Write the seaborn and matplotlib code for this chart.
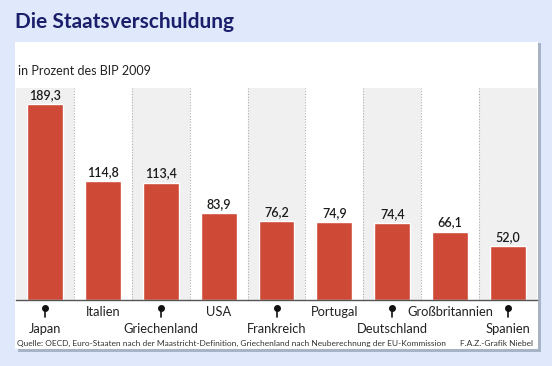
import matplotlib
matplotlib.use("Agg")
import matplotlib.pyplot as plt
import seaborn as sns
import pandas as pd
from matplotlib.patches import Rectangle
from matplotlib.transforms import blended_transform_factory

countries = ["Japan", "Italien", "Griechenland", "USA", "Frankreich",
             "Portugal", "Deutschland", "Großbritannien", "Spanien"]
values = [189.3, 114.8, 113.4, 83.9, 76.2, 74.9, 74.4, 66.1, 52.0]
value_labels = ["189,3", "114,8", "113,4", "83,9", "76,2", "74,9", "74,4", "66,1", "52,0"]
title = "Die Staatsverschuldung"
subtitle = "in Prozent des BIP 2009"
source = "Quelle: OECD, Euro-Staaten nach der Maastricht-Definition, Griechenland nach Neuberechnung der EU-Kommission"
credit = "F.A.Z.-Grafik Niebel"

df = pd.DataFrame({"land": countries, "wert": values})

sns.set_theme(style="white")
FONT = ["Lato", "DejaVu Sans"]
plt.rcParams["font.family"] = FONT

W, H = 552, 366
fig = plt.figure(figsize=(W / 100, H / 100), dpi=100)
fig.patch.set_facecolor("#dfe9fb")

def fx(px):
    return px / W

def fy(py):
    return 1 - py / H

# shadow + white panel
fig.patches.append(Rectangle((fx(18), fy(352)), fx(523), (309) / H,
                             transform=fig.transFigure, facecolor="#a9b3c6",
                             edgecolor="none", zorder=-2))
fig.patches.append(Rectangle((fx(15), fy(349)), fx(523), (307) / H,
                             transform=fig.transFigure, facecolor="white",
                             edgecolor="none", zorder=-1))

fig.text(fx(15), fy(22), title, fontsize=15, fontweight="bold",
         color="#1b1f6b", va="center", ha="left")
fig.text(fx(18), fy(71), subtitle, fontsize=9, color="#222222",
         va="center", ha="left")

ax = fig.add_axes([fx(16), fy(300), fx(537) - fx(16), (300 - 88) / H])
ax.set_facecolor("none")
ax.set_zorder(1)

n = len(countries)
for i in range(n):
    if i % 2 == 0:
        ax.axvspan(i - 0.5, i + 0.5, color="#f0f0f0", zorder=0, lw=0)
    if i < n - 1:
        ax.axvline(i + 0.5, color="#b0b0b0", lw=0.8, ls=(0, (1, 1.5)), zorder=0.5)

sns.barplot(data=df, x="land", y="wert", ax=ax, color="#cf4a36",
            saturation=1, width=0.62, zorder=2)

for i, (v, lab) in enumerate(zip(values, value_labels)):
    ax.text(i, v + 3, lab, ha="center", va="bottom", fontsize=9,
            fontweight="semibold", color="#1a1a1a", zorder=3)

ax.set_xlim(-0.5, n - 0.5)
ax.set_ylim(0, 212 / 1.035)
ax.set_xticks([])
ax.set_yticks([])
ax.set_xlabel("")
ax.set_ylabel("")
for s in ["top", "left", "right"]:
    ax.spines[s].set_visible(False)
ax.spines["bottom"].set_color("#555555")
ax.spines["bottom"].set_linewidth(1.0)

trans = blended_transform_factory(ax.transData, fig.transFigure)
for i, c in enumerate(countries):
    if i % 2 == 0:
        fig.lines.append(plt.Line2D([i, i], [fy(308), fy(317)], transform=trans,
                                    color="#111111", lw=1.2))
        fig.lines.append(plt.Line2D([i], [fy(308)], transform=trans, marker="o",
                                    markersize=4, color="#111111", lw=0))
        fig.text(i, fy(329), c, transform=trans, ha="center", va="center",
                 fontsize=9.3, color="#222222")
    else:
        fig.text(i, fy(312), c, transform=trans, ha="center", va="center",
                 fontsize=9.3, color="#222222")

fig.text(fx(17), fy(343), source, fontsize=6.05, color="#333333", va="center", ha="left")
fig.text(fx(533), fy(343), credit, fontsize=6.05, color="#333333", va="center", ha="right")

fig.savefig("out.png", dpi=100, facecolor=fig.get_facecolor())
